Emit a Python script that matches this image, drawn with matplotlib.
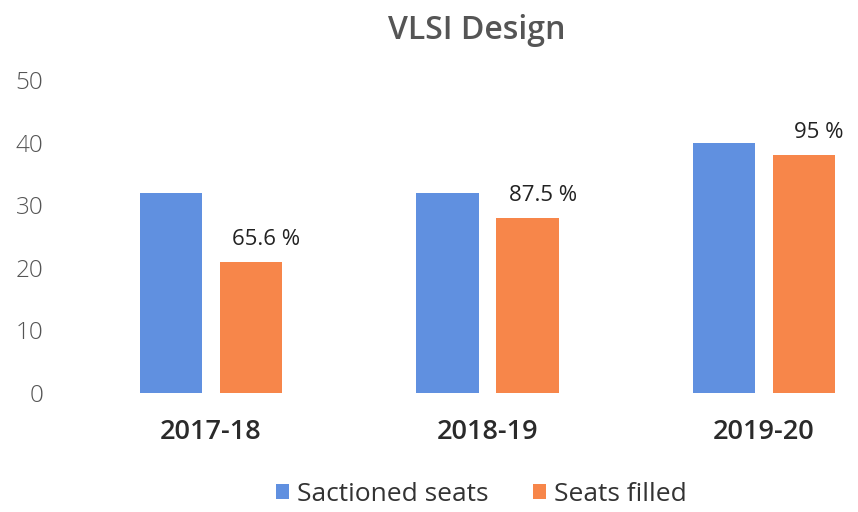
import matplotlib
matplotlib.use("Agg")
import matplotlib.pyplot as plt
import numpy as np

categories = ["2017-18", "2018-19", "2019-20"]
sanctioned = [32, 32, 40]
filled = [21, 28, 38]
pct_labels = ["65.6 %", "87.5 %", "95 %"]
series_names = ["Sactioned seats", "Seats filled"]

plt.rcParams['font.family'] = ['Open Sans', 'DejaVu Sans']

fig = plt.figure(figsize=(8.58, 5.12), dpi=100)
ax = fig.add_axes([60/858, (512-393)/512, 790/858, (393-80)/512])

x = np.arange(len(categories))
w = 0.226
off = 0.144
b1 = ax.bar(x - off, sanctioned, w, color='#6090E0', label=series_names[0])
b2 = ax.bar(x + off, filled, w, color='#F7864A', label=series_names[1])

for xi, v, lab in zip(x + off, filled, pct_labels):
    ax.annotate(lab, (xi, v), xytext=(11, 12), textcoords='offset points',
                ha='center', va='baseline', fontsize=16, color='#222222')

ax.set_xlim(-0.546, 2.311)
ax.set_ylim(0, 50)
ax.set_yticks([0, 10, 20, 30, 40, 50])
ax.set_xticks(x)
ax.set_xticklabels(categories, fontsize=19.5, fontweight='semibold', color='#2a2a2a')
ax.tick_params(axis='y', labelsize=17.5, labelcolor='#555555', length=0, pad=12)
for t in ax.get_yticklabels():
    t.set_fontweight('light')
ax.tick_params(axis='x', length=0, pad=18)
for s in ax.spines.values():
    s.set_visible(False)

fig.text(0.556, 0.94, "VLSI Design", ha='center', va='center', fontsize=23,
         fontweight='semibold', color='#555555')

fig.legend(handles=[b1, b2], labels=series_names, loc='center',
           bbox_to_anchor=(0.561, 0.035), ncol=2, frameon=False, fontsize=19,
           handlelength=0.5, handleheight=0.5, handletextpad=0.3, columnspacing=1.7,
           labelcolor='#333333')

fig.savefig("out.png", dpi=100)
